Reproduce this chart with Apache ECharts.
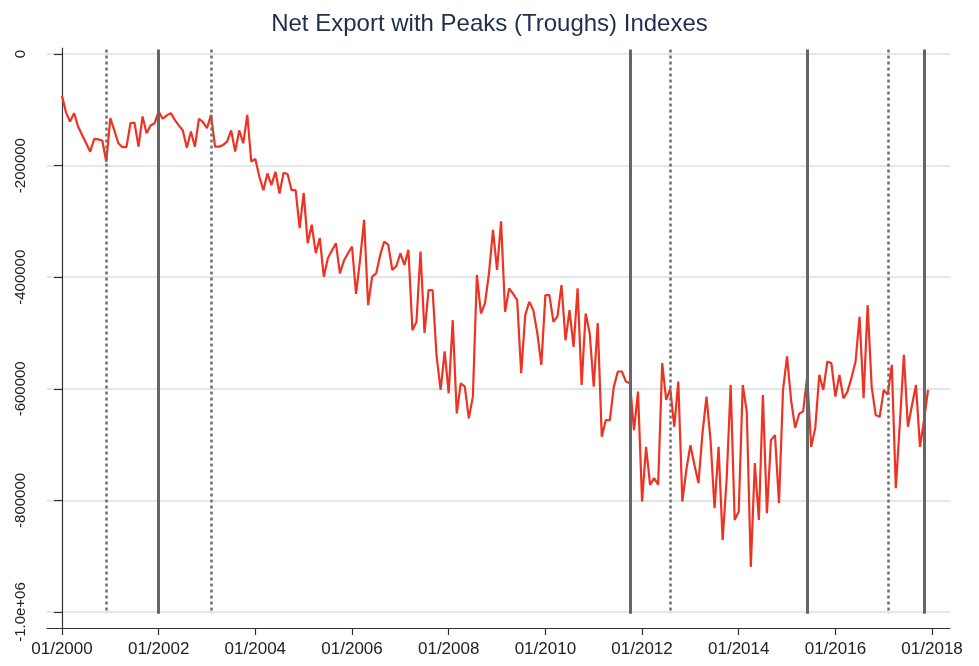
<!DOCTYPE html>
<html lang="en">
<head>
<meta charset="UTF-8">
<title>Net Export with Peaks (Troughs) Indexes</title>
<script src="https://cdn.jsdelivr.net/npm/echarts@6/dist/echarts.min.js"></script>
<style>
    html, body { margin: 0; background: #fff; }
    #main { width: 979px; height: 666px; }
</style>
</head>
<body>
<div id="main"></div>
<script>
// monthly net export, 01/2000 .. 12/2017
var startYear = 2000;
var netExport = [
    -75000, -105000, -121000, -106000, -130000, -145000, -160000, -175000, -152000, -153000, -155000, -193000,
    -115000, -137000, -160000, -167000, -167000, -124000, -123000, -166000, -112000, -142000, -128000, -124000,
    -103000, -116000, -110000, -106000, -118000, -128000, -137000, -168000, -139000, -166000, -116000, -122000,
    -133000, -109000, -166000, -166000, -163000, -157000, -137000, -175000, -137000, -160000, -109000, -193000,
    -188000, -220000, -244000, -214000, -235000, -211000, -250000, -213000, -215000, -244000, -244000, -312000,
    -249000, -339000, -306000, -357000, -330000, -399000, -366000, -352000, -339000, -393000, -370000, -357000,
    -345000, -430000, -369000, -297000, -450000, -399000, -393000, -360000, -336000, -342000, -387000, -380000,
    -357000, -378000, -351000, -495000, -480000, -354000, -500000, -423000, -423000, -542000, -602000, -533000,
    -608000, -477000, -644000, -590000, -596000, -653000, -614000, -396000, -465000, -447000, -393000, -315000,
    -387000, -300000, -462000, -420000, -430000, -441000, -572000, -468000, -444000, -459000, -500000, -557000,
    -432000, -432000, -480000, -470000, -414000, -513000, -459000, -525000, -420000, -593000, -465000, -500000,
    -596000, -482000, -686000, -656000, -656000, -596000, -569000, -569000, -587000, -590000, -674000, -605000,
    -802000, -704000, -772000, -760000, -772000, -554000, -620000, -600000, -668000, -587000, -802000, -745000,
    -701000, -736000, -769000, -680000, -614000, -692000, -814000, -704000, -871000, -763000, -593000, -835000,
    -820000, -593000, -641000, -919000, -733000, -835000, -611000, -823000, -692000, -683000, -805000, -602000,
    -542000, -620000, -670000, -645000, -640000, -578000, -704000, -670000, -575000, -602000, -551000, -554000,
    -614000, -575000, -617000, -605000, -580000, -551000, -471000, -617000, -450000, -596000, -647000, -650000,
    -602000, -610000, -557000, -778000, -662000, -539000, -668000, -630000, -593000, -704000, -656000, -602000
];
var peakMonths = ['01/2002', '10/2011', '06/2015', '11/2017'];
var troughMonths = ['12/2000', '02/2003', '08/2012', '02/2017'];
var xTickMonths = [0, 24, 48, 72, 96, 120, 144, 168, 192, 216];
var yTicks = [0, -200000, -400000, -600000, -800000, -1000000];
var yTickLabels = ['0', '-200000', '-400000', '-600000', '-800000', '-1.0e+06'];

function monthIndex(s) {
    var p = s.split('/');
    return (parseInt(p[1], 10) - startYear) * 12 + parseInt(p[0], 10) - 1;
}
function monthLabel(i) {
    var y = startYear + Math.floor(i / 12);
    var m = i % 12 + 1;
    return (m < 10 ? '0' + m : '' + m) + '/' + y;
}

var lineTop = 8000, lineBottom = -1003000;
function vLines(list) {
    return list.map(function (s) {
        var i = monthIndex(s);
        return [{ coord: [i, lineTop] }, { coord: [i, lineBottom] }];
    });
}

var myChart = echarts.init(document.getElementById('main'));
var option = {
    animation: false,
    backgroundColor: '#fff',
    title: {
        text: 'Net Export with Peaks (Troughs) Indexes',
        left: 'center',
        top: 7,
        textStyle: { color: '#1f2d4d', fontSize: 24, fontWeight: 'normal', fontFamily: 'Liberation Sans, Arial, sans-serif' }
    },
    grid: { left: 47, right: 29, top: 48, bottom: 38 },
    xAxis: {
        type: 'value',
        min: -3.72,
        max: 220.45,
        axisLine: { onZero: false, lineStyle: { color: '#333', width: 1.2 } },
        axisTick: { customValues: xTickMonths, length: 7, lineStyle: { color: '#333', width: 1.2 } },
        axisLabel: {
            customValues: xTickMonths,
            formatter: function (v) { return monthLabel(Math.round(v)); },
            color: '#222', fontSize: 17, margin: 13,
            fontFamily: 'Liberation Sans, Arial, sans-serif'
        },
        splitLine: { show: false }
    },
    yAxis: {
        type: 'value',
        min: -1028600,
        max: 10750,
        axisLine: { show: true, lineStyle: { color: '#333', width: 1.2 } },
        axisTick: { show: true, customValues: yTicks, length: 8, lineStyle: { color: '#333', width: 1.2 } },
        axisLabel: {
            customValues: yTicks,
            rotate: 90,
            formatter: function (v) {
                var k = yTicks.indexOf(Math.round(v));
                return k >= 0 ? yTickLabels[k] : '';
            },
            color: '#222', fontSize: 15, margin: 19,
            fontFamily: 'Liberation Sans, Arial, sans-serif'
        },
        splitLine: { show: true, customValues: yTicks, lineStyle: { color: '#dfe9ec', width: 2 } }
    },
    series: [
        {
            name: 'Net Export',
            type: 'line',
            data: netExport.map(function (v, i) { return [i, v]; }),
            showSymbol: false,
            lineStyle: { color: '#ee3322', width: 2.2 },
            z: 3
        },
        {
            name: 'Peaks',
            type: 'line',
            data: [],
            markLine: {
                silent: true,
                symbol: ['none', 'none'],
                label: { show: false },
                lineStyle: { color: '#666', width: 3, type: 'solid' },
                data: vLines(peakMonths)
            },
            z: 2
        },
        {
            name: 'Troughs',
            type: 'line',
            data: [],
            markLine: {
                silent: true,
                symbol: ['none', 'none'],
                label: { show: false },
                lineStyle: { color: '#6e6e6e', width: 2.5, type: [3, 3] },
                data: vLines(troughMonths)
            },
            z: 2
        }
    ]
};
myChart.setOption(option);
</script>
</body>
</html>
